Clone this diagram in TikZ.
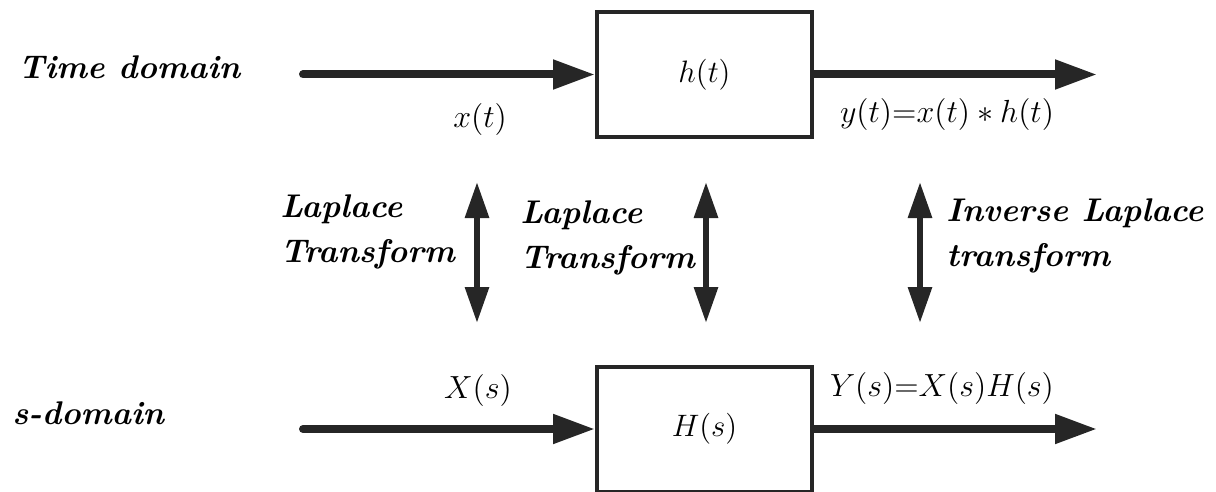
\documentclass[tikz,border=0pt]{standalone}
\usepackage{fix-cm}
\usepackage{fontspec}
\usetikzlibrary{arrows.meta}
\begin{document}
\begin{tikzpicture}[x=0.5pt,y=-0.5pt,
  sig/.style={line width=4pt, draw=black!85, line cap=round, -{Triangle[length=21pt,width=14pt]}},
  xf/.style={line width=3pt, draw=black!85, {Triangle[length=18pt,width=11.5pt]}-{Triangle[length=18pt,width=11.5pt]}},
  sysbox/.style={draw=black!85, line width=2pt, minimum width=107.5pt, minimum height=62.5pt, inner sep=0pt, font=\fontsize{15.5}{18}\selectfont},
  lbl/.style={font=\bfseries\itshape\fontsize{16.4}{22.5}\selectfont, inner sep=0pt, align=left, anchor=west},
  siglbl/.style={font=\fontsize{16}{18}\selectfont, inner sep=0pt}
]
\useasboundingbox (0,0) rectangle (1216,492);
% boxes
\node[sysbox] (hbox) at (704.5,74.5) {$h(t)$};
\node[sysbox] (Hbox) at (704.5,429) {$H(s)$};
% signal end points
\coordinate (tin) at (303,74.5);
\coordinate (tout) at (1097,74.5);
\coordinate (sin) at (303,429);
\coordinate (sout) at (1097,429);
\draw[sig] (tin) -- (hbox.west);
\draw[sig] (hbox.east) -- (tout);
\draw[sig] (sin) -- (Hbox.west);
\draw[sig] (Hbox.east) -- (sout);
% transform arrows
\coordinate (a1t) at (477,182); \coordinate (a1b) at (477,323);
\coordinate (a2t) at (706,182); \coordinate (a2b) at (706,323);
\coordinate (a3t) at (920,182); \coordinate (a3b) at (920,323);
\draw[xf] (a1t) -- (a1b);
\draw[xf] (a2t) -- (a2b);
\draw[xf] (a3t) -- (a3b);
% domain labels
\node[lbl] (td) at (18,67) {Time domain};
\node[lbl] (sd) at (12,413) {s-domain};
% transform labels
\node[lbl] (lt1) at (280,232) {Laplace\\Transform};
\node[lbl] (lt2) at (520,238) {Laplace\\Transform};
\node[lbl] (ilt) at (946,236) {Inverse Laplace\\transform};
% signal labels
\node[siglbl] (xt) at (480,120) {$x(t)$};
\node[siglbl] (yt) at (947,115) {$y(t){=}x(t)\ast h(t)$};
\node[siglbl] (Xs) at (478,390) {$X(s)$};
\node[siglbl] (Ys) at (942,388) {$Y(s){=}X(s)H(s)$};
\end{tikzpicture}
\end{document}
